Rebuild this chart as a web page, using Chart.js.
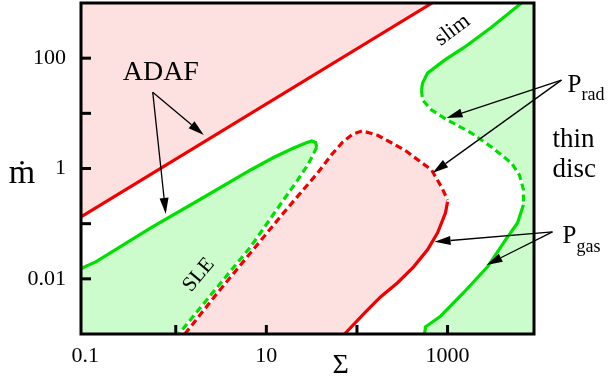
<!DOCTYPE html>
<html>
<head>
<meta charset="utf-8">
<script src="https://cdn.jsdelivr.net/npm/chart.js@4.4.0/dist/chart.umd.min.js"></script>
<style>
  body { margin: 0; background: #fff; }
  #wrap { width: 608px; height: 377px; }
</style>
</head>
<body>
<div id="wrap"><canvas id="chart"></canvas></div>
<script>
// axis range (Sigma, mdot)
const sigmaMin = 0.09, sigmaMax = 9000;
const mdotMin = 0.001, mdotMax = 1000;

const xTickValues = [0.1, 1, 10, 100, 1000];
const xTickLabels = ['0.1', '', '10', '', '1000'];
const yTickValues = [0.001, 0.01, 0.1, 1, 10, 100, 1000];
const yTickLabels = ['', '0.01', '', '1', '', '100', ''];

// ADAF boundary (red straight line)
const adafLine = [[0.09, 0.133], [676, 1000]];

// lower left stable branch (green)
const greenLowSolid = [[0.09, 0.0152], [0.104, 0.0172], [0.131, 0.0203], [0.53, 0.0838], [1.89, 0.28],
  [6.7, 0.94], [12, 1.58], [20, 2.35], [27.2, 2.9], [31.6, 3.15], [35, 2.96], [35.9, 2.45]];
const greenLowDashed = [[35.9, 2.45], [33.5, 1.9], [28.6, 1.16], [22.2, 0.62], [15.5, 0.27],
  [6.7, 0.038], [2.9, 0.0072], [1.08, 0.001]];

// middle unstable region (red)
const redMidDashed = [[1.26, 0.001], [2.9, 0.0056], [6.7, 0.0296], [15.5, 0.157], [36.8, 0.83],
  [52, 1.75], [69.5, 3.0], [90, 4.2], [115, 4.8], [169, 4.0], [336, 2.16], [666, 0.94], [859, 0.46], [1000, 0.27]];
const redMidSolid = [[1000, 0.25], [950, 0.157], [776, 0.068], [601, 0.0335], [422, 0.0165],
  [281, 0.0085], [182, 0.0047], [121, 0.0024], [73, 0.001]];

// upper right stable branch (green)
const greenHighSolidTop = [[6550, 1000], [3055, 364], [1538, 158], [926, 92], [601, 53.5], [530, 35.3], [516, 26.4]];
const greenHighDashed = [[516, 26.4], [530, 17.4], [666, 11.5], [1000, 7.55], [1841, 4.39], [3055, 2.45],
  [5078, 1.26], [6223, 0.76], [6886, 0.41], [6886, 0.24]];
const greenHighSolidBottom = [[6886, 0.22], [5917, 0.103], [4365, 0.051], [2763, 0.0165], [1500, 0.0056],
  [837, 0.0021], [572, 0.00135], [557, 0.001]];

const RED = '#f00000', GREEN = '#00e000', PINK = '#fde1e1', LIGHTGREEN = '#ccfccc';

const pts = arr => arr.map(p => ({ x: p[0], y: p[1] }));

// filled regions
const adafRegion = [...adafLine, [sigmaMin, mdotMax]];
const lowRegion = [[sigmaMin, mdotMin], ...greenLowSolid, ...greenLowDashed];
const midRegion = [...redMidDashed, ...redMidSolid];
const highRegion = [...greenHighSolidTop, ...greenHighDashed, ...greenHighSolidBottom, [sigmaMax, mdotMin], [sigmaMax, mdotMax]];

function region(arr, color) {
  return { data: pts(arr), showLine: true, fill: 'shape', backgroundColor: color,
    borderColor: 'rgba(0,0,0,0)', borderWidth: 1, pointRadius: 0, order: 10 };
}
function solid(arr, color) {
  return { data: pts(arr), showLine: true, fill: false, borderColor: color, borderWidth: 3.2,
    pointRadius: 0, order: 1 };
}
function dashed(arr, color) {
  return { data: pts(arr), showLine: true, fill: false, borderColor: color, borderWidth: 3.2,
    borderDash: [7, 4], pointRadius: 0, order: 1 };
}
function whiteUnder(arr) {
  return { data: pts(arr), showLine: true, fill: false, borderColor: '#ffffff', borderWidth: 3.2,
    pointRadius: 0, order: 5 };
}

// labels and arrows (data coordinates)
const texts = [
  { t: 'ADAF', x: 0.684, y: 54, size: 28, rot: 0 },
  { t: 'slim', x: 1135, y: 321, size: 22, rot: -37 },
  { t: 'SLE', x: 1.79, y: 0.0118, size: 21, rot: -50 },
];
const leftTexts = [
  { t: 'P', x: 21060, y: 24.2, size: 25 },
  { t: 'rad', x: 30060, y: 17.4, size: 18 },
  { t: 'thin', x: 14390, y: 2.45, size: 27 },
  { t: 'disc', x: 14390, y: 0.70, size: 27 },
  { t: 'P', x: 18550, y: 0.0448, size: 25 },
  { t: 'gas', x: 26480, y: 0.0308, size: 18 },
];
const arrows = [
  [[0.557, 24.2], [2.04, 4.04]],
  [[0.557, 24.2], [0.776, 0.15]],
  [[18080, 40], [975, 8.2]],
  [[18080, 40], [683, 0.83]],
  [[14390, 0.071], [719, 0.0468]],
  [[14390, 0.071], [2692, 0.0179]],
];

const FONT = "'Liberation Serif', 'DejaVu Serif', serif";

function drawArrow(ctx, x0, y0, x1, y1) {
  const a = Math.atan2(y1 - y0, x1 - x0);
  const L = 16, W = 4.5;
  const bx = x1 - L * Math.cos(a), by = y1 - L * Math.sin(a);
  ctx.beginPath();
  ctx.moveTo(x0, y0);
  ctx.lineTo(bx, by);
  ctx.stroke();
  ctx.beginPath();
  ctx.moveTo(x1, y1);
  ctx.lineTo(bx + W * Math.sin(a), by - W * Math.cos(a));
  ctx.lineTo(bx - W * Math.sin(a), by + W * Math.cos(a));
  ctx.closePath();
  ctx.fill();
}

const decorations = {
  id: 'decorations',
  afterDatasetsDraw(chart) {
    const ctx = chart.ctx;
    const xs = chart.scales.x, ys = chart.scales.y;
    const area = chart.chartArea;
    ctx.save();

    // frame
    ctx.strokeStyle = '#000';
    ctx.lineWidth = 3;
    ctx.strokeRect(area.left, area.top, area.right - area.left, area.bottom - area.top);

    // inward tick marks
    ctx.fillStyle = '#000';
    xTickValues.forEach(v => {
      const px = xs.getPixelForValue(v);
      if (px - area.left > 6 && area.right - px > 6) ctx.fillRect(px - 1.5, area.bottom - 9, 3, 9);
    });
    yTickValues.forEach(v => {
      const py = ys.getPixelForValue(v);
      if (py - area.top > 6 && area.bottom - py > 6) ctx.fillRect(area.left, py - 1.5, 10, 3);
    });

    // arrows
    ctx.strokeStyle = '#000';
    ctx.lineWidth = 1.3;
    arrows.forEach(([p, q]) => {
      drawArrow(ctx, xs.getPixelForValue(p[0]), ys.getPixelForValue(p[1]),
        xs.getPixelForValue(q[0]), ys.getPixelForValue(q[1]));
    });

    // texts
    ctx.fillStyle = '#000';
    ctx.textAlign = 'center';
    ctx.textBaseline = 'middle';
    texts.forEach(o => {
      ctx.save();
      ctx.translate(xs.getPixelForValue(o.x), ys.getPixelForValue(o.y));
      ctx.rotate(o.rot * Math.PI / 180);
      ctx.font = o.size + 'px ' + FONT;
      ctx.fillText(o.t, 0, 0);
      ctx.restore();
    });
    ctx.textAlign = 'left';
    ctx.textBaseline = 'alphabetic';
    leftTexts.forEach(o => {
      ctx.font = o.size + 'px ' + FONT;
      ctx.fillText(o.t, xs.getPixelForValue(o.x), ys.getPixelForValue(o.y));
    });

    // axis titles
    ctx.textAlign = 'center';
    ctx.font = '34px ' + FONT;
    ctx.fillText('ṁ', area.left - 59, ys.getPixelForValue(1) + 14);
    ctx.font = '28px ' + FONT;
    ctx.fillText('Σ', xs.getPixelForValue(66), area.bottom + 39);
    ctx.restore();
  }
};

new Chart(document.getElementById('chart'), {
  type: 'scatter',
  data: {
    datasets: [
      region(adafRegion, PINK),
      region(lowRegion, LIGHTGREEN),
      region(midRegion, PINK),
      region(highRegion, LIGHTGREEN),
      whiteUnder(greenLowDashed),
      whiteUnder(redMidDashed),
      whiteUnder(greenHighDashed),
      solid(adafLine, RED),
      solid(greenLowSolid, GREEN),
      dashed(greenLowDashed, GREEN),
      dashed(redMidDashed, RED),
      solid(redMidSolid, RED),
      solid(greenHighSolidTop, GREEN),
      dashed(greenHighDashed, GREEN),
      solid(greenHighSolidBottom, GREEN),
    ]
  },
  options: {
    responsive: true,
    maintainAspectRatio: false,
    animation: false,
    devicePixelRatio: 1,
    layout: { padding: { top: 3, right: 74, bottom: 0, left: 0 } },
    plugins: { legend: { display: false }, tooltip: { enabled: false } },
    scales: {
      x: {
        type: 'logarithmic',
        position: 'bottom',
        min: sigmaMin,
        max: sigmaMax,
        grid: { display: false, drawTicks: false },
        border: { display: false },
        afterBuildTicks: s => { s.ticks = xTickValues.map(v => ({ value: v })); },
        afterFit: s => { s.height = 43; s.paddingLeft = 0; s.paddingRight = 0; },
        ticks: {
          autoSkip: false, maxRotation: 0, padding: 9, color: '#000',
          font: { family: FONT, size: 22 },
          callback: (v) => xTickLabels[xTickValues.indexOf(v)] || ''
        }
      },
      y: {
        type: 'logarithmic',
        position: 'left',
        min: mdotMin,
        max: mdotMax,
        grid: { display: false, drawTicks: false },
        border: { display: false },
        afterBuildTicks: s => { s.ticks = yTickValues.map(v => ({ value: v })); },
        afterFit: s => { s.width = 81; s.paddingTop = 0; s.paddingBottom = 0; },
        ticks: {
          autoSkip: false, padding: 15, color: '#000',
          font: { family: FONT, size: 22 },
          callback: (v) => yTickLabels[yTickValues.indexOf(v)] || ''
        }
      }
    }
  },
  plugins: [decorations]
});
</script>
</body>
</html>
